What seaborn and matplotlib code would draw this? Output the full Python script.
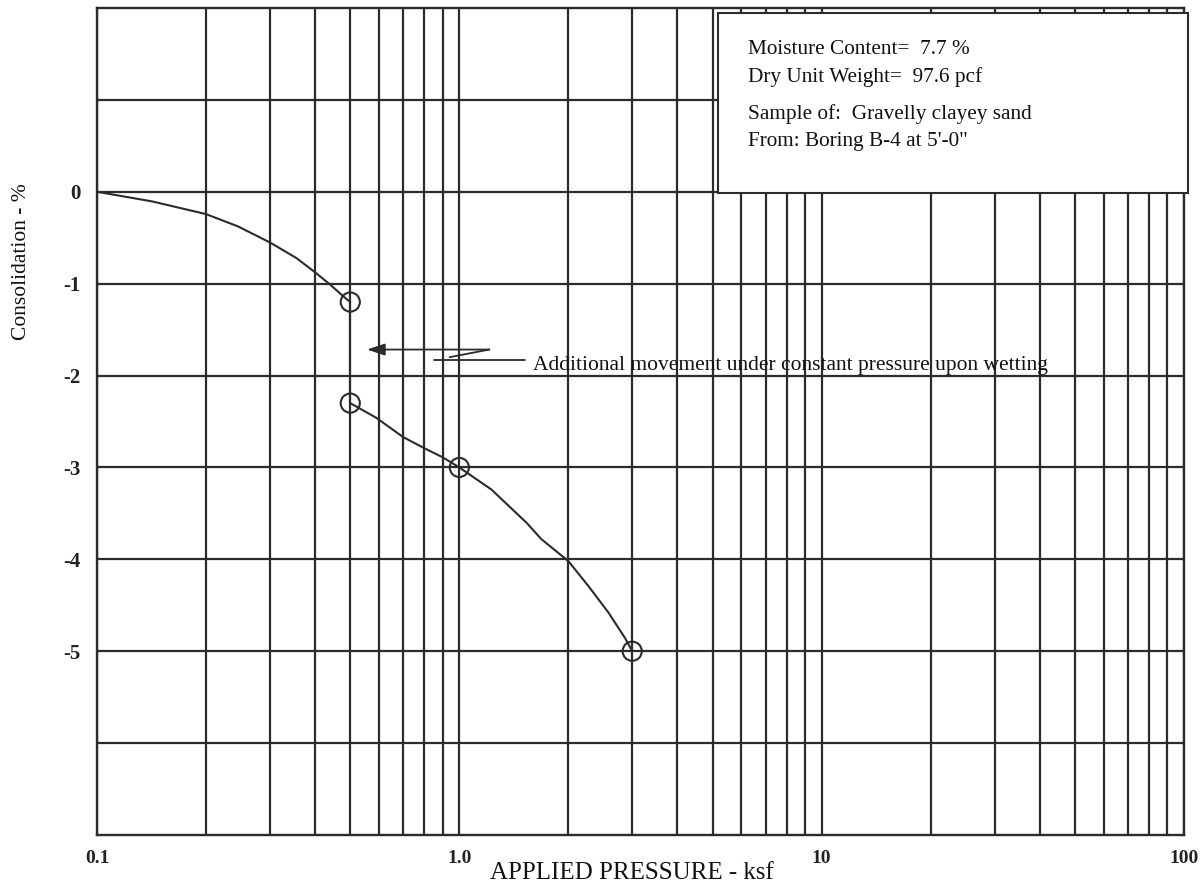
import numpy as np
import pandas as pd
import matplotlib
matplotlib.use("Agg")
import matplotlib.pyplot as plt
from matplotlib.patches import Rectangle
import seaborn as sns

# Consolidation curve at natural moisture (before wetting)
dry_pressure = [0.10, 0.142, 0.20, 0.245, 0.30, 0.355, 0.40, 0.44, 0.479, 0.50]
dry_consol = [0.0, -0.105, -0.243, -0.377, -0.551, -0.721, -0.877, -1.01, -1.14, -1.2]

# Settlement upon wetting at constant pressure
wetting_pressure = [0.50, 0.50]
wetting_consol = [-1.2, -2.3]

# Consolidation curve after wetting
wet_pressure = [0.50, 0.59, 0.70, 0.80, 0.90, 1.0, 1.226, 1.531, 1.684, 2.0, 2.27, 2.58, 2.87, 3.0]
wet_consol = [-2.3, -2.46, -2.67, -2.79, -2.89, -3.0, -3.24, -3.60, -3.78, -4.02, -4.29, -4.58, -4.86, -5.0]

# Measured test points (open circles)
point_pressure = [0.50, 0.50, 1.0, 3.0]
point_consol = [-1.2, -2.3, -3.0, -5.0]

x_major = [0.1, 1.0, 10, 100]
x_major_labels = ["0.1", "1.0", "10", "100"]
y_ticks = [-6, -5, -4, -3, -2, -1, 0, 1]
y_tick_labels = ["", "-5", "-4", "-3", "-2", "-1", "0", ""]

info_lines = [
    "Moisture Content=  7.7 %",
    "Dry Unit Weight=  97.6 pcf",
    "Sample of:  Gravelly clayey sand",
    "From: Boring B-4 at 5'-0\"",
]

curve = pd.concat([
    pd.DataFrame({"pressure": dry_pressure, "consolidation": dry_consol, "segment": "dry"}),
    pd.DataFrame({"pressure": wetting_pressure, "consolidation": wetting_consol, "segment": "wetting"}),
    pd.DataFrame({"pressure": wet_pressure, "consolidation": wet_consol, "segment": "wet"}),
], ignore_index=True)
points = pd.DataFrame({"pressure": point_pressure, "consolidation": point_consol})

sns.set_theme(style="white")
plt.rcParams["font.family"] = ["Liberation Serif", "DejaVu Serif"]

ink = "#2b2b2b"
fig = plt.figure(figsize=(12, 8.84), dpi=100)
ax = fig.add_axes([97 / 1200, 49 / 884, 1087 / 1200, 827 / 884])

ax.set_xscale("log")
ax.set_xlim(0.1, 100)
ax.set_ylim(-7, 2)

ax.set_xticks(x_major)
ax.set_xticklabels(x_major_labels)
ax.set_xticks([m * d for d in (0.1, 1, 10) for m in range(2, 10)], minor=True)
ax.xaxis.set_minor_formatter(plt.NullFormatter())
ax.set_yticks(y_ticks)
ax.set_yticklabels(y_tick_labels)

ax.grid(True, which="both", axis="x", color=ink, linewidth=1.6)
ax.grid(True, which="major", axis="y", color=ink, linewidth=1.6)
ax.set_axisbelow(True)
ax.tick_params(which="both", length=0)
ax.tick_params(axis="x", pad=11, labelsize=14)
ax.tick_params(axis="y", pad=12, labelsize=15)
for lab in ax.get_xticklabels() + ax.get_yticklabels():
    lab.set_fontweight("bold")
    lab.set_color("#222222")
for s in ax.spines.values():
    s.set_color(ink)
    s.set_linewidth(1.7)

sns.lineplot(data=curve, x="pressure", y="consolidation", units="segment",
             estimator=None, sort=False, color=ink, linewidth=1.5, ax=ax)
sns.scatterplot(data=points, x="pressure", y="consolidation", marker="o", s=190,
                facecolors="none", edgecolor=ink, linewidth=1.5, zorder=5, ax=ax)

ax.set_xlabel("APPLIED PRESSURE - ksf", fontsize=18, color="#111111")
ax.xaxis.set_label_coords(0.492, -0.046)
ax.xaxis.label.set_va("center")
ax.set_ylabel("Consolidation - %", fontsize=15.5, color="#111111")
ax.yaxis.set_label_coords(-0.069, 0.693)
ax.yaxis.label.set_va("center")

# Sample description box
ax.add_patch(Rectangle((0.571, 0.776), 0.433, 0.218, transform=ax.transAxes,
                       facecolor="white", edgecolor=ink, linewidth=1.5,
                       clip_on=False, zorder=6))
for txt, yy in zip(info_lines, [0.950, 0.917, 0.872, 0.838]):
    ax.text(0.599, yy, txt, transform=ax.transAxes, fontsize=15.3, va="center",
            ha="left", color="#111111", zorder=7)

# Wetting note with its jagged leader arrow
ax.annotate("", xy=(0.556, -1.717), xytext=(1.21, -1.717),
            arrowprops=dict(arrowstyle="-|>,head_length=0.9,head_width=0.3",
                            color=ink, lw=1.3, shrinkA=0, shrinkB=0), zorder=6)
ax.plot([1.21, 0.94], [-1.717, -1.80], color=ink, lw=1.3, zorder=6)
ax.plot([0.852, 1.514], [-1.826, -1.826], color=ink, lw=1.3, zorder=6)
ax.text(1.60, -1.89, "Additional movement under constant pressure upon wetting",
        fontsize=15.5, va="center", ha="left", color="#111111", zorder=7)

fig.savefig("out.png", dpi=100, facecolor="white")
